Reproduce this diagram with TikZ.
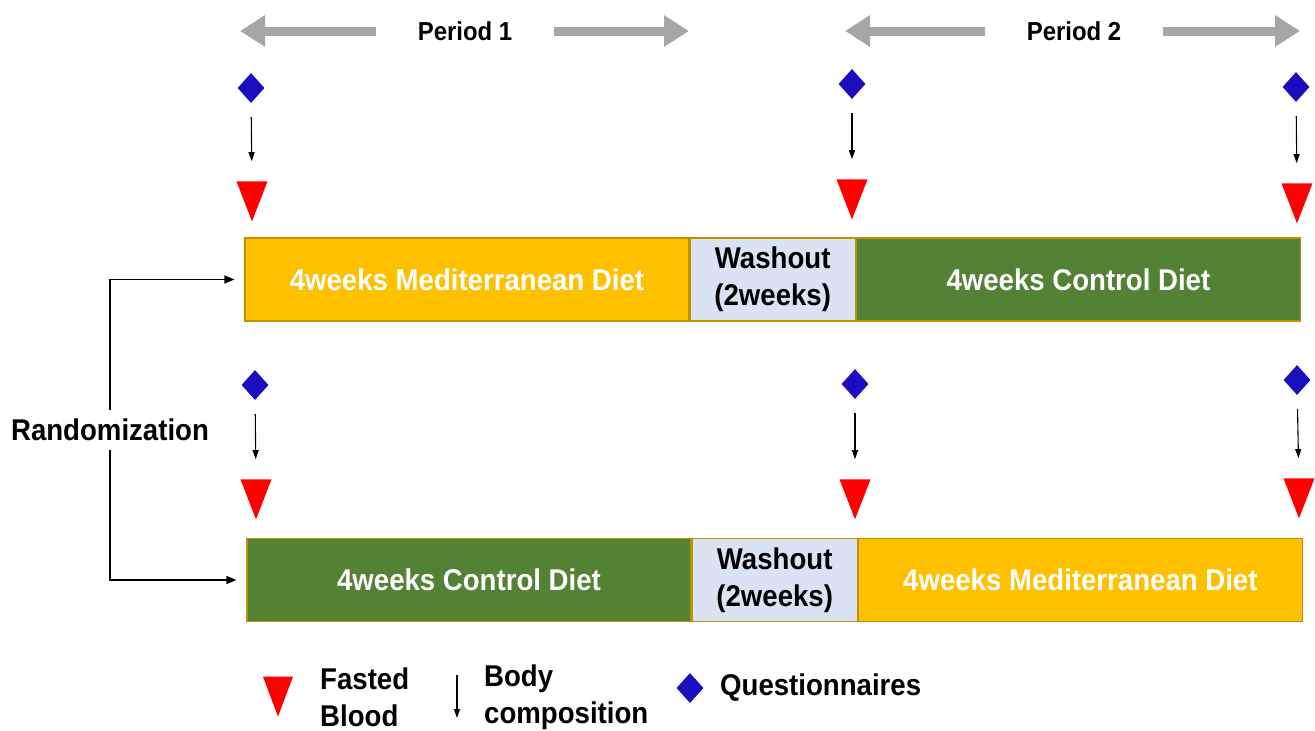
\documentclass[tikz,border=0pt]{standalone}
\usepackage{fontspec}
\setmainfont{Liberation Sans}[FakeStretch=0.92]
\usepackage{xcolor}
\usetikzlibrary{arrows.meta,positioning,shapes.geometric}
\definecolor{medorange}{HTML}{FFC000}
\definecolor{ctrlgreen}{HTML}{548235}
\definecolor{washblue}{HTML}{DAE3F3}
\definecolor{boxedge}{HTML}{BF9000}
\definecolor{qblue}{RGB}{26,14,190}
\definecolor{fbred}{HTML}{FF0000}
\definecolor{pgray}{HTML}{A6A6A6}

\begin{document}
\begin{tikzpicture}[x=1pt,y=-1pt,>={Triangle[length=9pt,width=6pt]}]
        \tikzset{every node/.style={font=\bfseries\fontsize{30}{37}\selectfont, inner sep=0pt},
        block/.style={draw=boxedge, line width=1.2pt, rectangle, align=center, minimum height=83pt, text=white},
        medblock/.style={block, fill=medorange, minimum width=444pt},
        ctrlblock/.style={block, fill=ctrlgreen, minimum width=444pt},
        washblock/.style={block, fill=washblue, minimum width=165pt, text=black},
        quest/.style={diamond, fill=qblue, minimum width=27pt, minimum height=30pt}, % requires library shapes.geometric
        blood/.style={isosceles triangle, isosceles triangle stretches, rotate=-90,
                fill=fbred, minimum width=31pt, minimum height=40pt},
        bodyarrow/.style={->, line width=1.1pt, shorten <=14pt, shorten >=20pt},
        periodarrow/.style={draw=pgray, line width=9pt, -{Triangle[length=25pt,width=30pt]}, shorten <=42pt},
        }
        \useasboundingbox (0,0) rectangle (1315,731);

%% periods
        \node (per1) at (465,31) {\fontsize{26}{30}\selectfont Period 1};
        \node (per2) at (1074,31) {\fontsize{26}{30}\selectfont Period 2};
        \coordinate (per1l) at (240,31);
        \coordinate (per1r) at (689,31);
        \coordinate (per2l) at (845,31);
        \coordinate (per2r) at (1300,31);

%% first arm
        \node [medblock] (med1) at (467,279.5) {4weeks Mediterranean Diet};
        \node [washblock, right=0pt of med1] (wash1) {Washout\\(2weeks)};
        \node [ctrlblock, right=0pt of wash1] (ctrl1) {4weeks Control Diet};

%% second arm
        \node [ctrlblock] (ctrl2) at (469,580) {4weeks Control Diet};
        \node [washblock, right=0pt of ctrl2] (wash2) {Washout\\(2weeks)};
        \node [medblock, right=0pt of wash2] (med2) {4weeks Mediterranean Diet};

        \node [inner sep=9pt] (rand) at (110,430) {Randomization};

%% measurements, first arm
        \node [quest] (qa1) at (251,88) {};
        \node [quest] (qa2) at (852,84) {};
        \node [quest] (qa3) at (1296,87) {};
        \node [blood] (ba1) at (252,192) {};
        \node [blood] (ba2) at (852,190) {};
        \node [blood] (ba3) at (1297,194) {};

%% measurements, second arm
        \node [quest] (qb1) at (255,385) {};
        \node [quest] (qb2) at (855,384) {};
        \node [quest] (qb3) at (1297,380) {};
        \node [blood] (bb1) at (256,490) {};
        \node [blood] (bb2) at (855,490) {};
        \node [blood] (bb3) at (1299,489) {};

%% legend
        \node [blood, minimum width=30pt] (lgblood) at (278,687) {};
        \node [anchor=west, align=left] (lgbloodtxt) at (320,697) {Fasted\\Blood};
        \coordinate (lgbodytop) at (457,675);
        \coordinate (lgbodybot) at (457,718);
        \node [anchor=west, align=left] (lgbodytxt) at (484,697) {Body\\composition};
        \node [quest] (lgquest) at (690,688) {};
        \node [anchor=west] (lgquesttxt) at (720,688) {Questionnaires};

%% paths
        \path[periodarrow] (per1) -- (per1l);
        \path[periodarrow] (per1) -- (per1r);
        \path[periodarrow] (per2) -- (per2l);
        \path[periodarrow] (per2) -- (per2r);
        \path[bodyarrow] (qa1) edge (ba1)
                    (qa2) edge (ba2)
                    (qa3) edge (ba3)
                    (qb1) edge (bb1)
                    (qb2) edge (bb2)
                    (qb3) edge (bb3);
        \draw[->,line width=1.1pt] (lgbodytop) -- (lgbodybot);
        \draw[->,line width=1.3pt,>={Triangle[length=10pt,width=8pt]},shorten >=10pt] (rand.north) |- (med1.west);
        \draw[->,line width=1.3pt,>={Triangle[length=10pt,width=8pt]},shorten >=10pt] (rand.south) |- (ctrl2.west);
    \end{tikzpicture}
\end{document}
